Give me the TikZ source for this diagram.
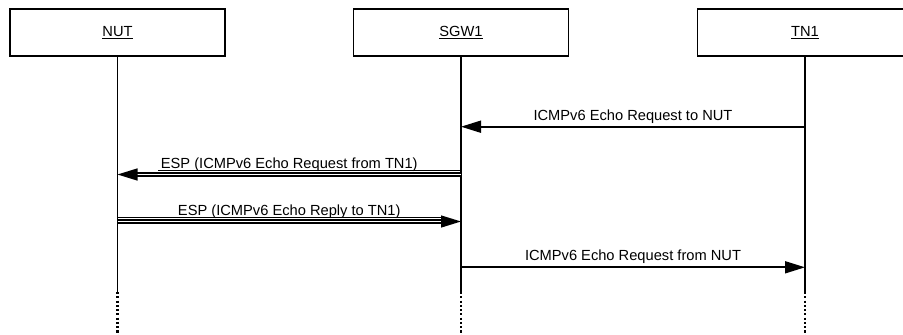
\documentclass[tikz,border=0pt]{standalone}
\usepackage{fontspec}
\setmainfont{Liberation Sans}
\usetikzlibrary{arrows.meta,calc}
\tikzset{
  actor/.style={draw, line width=1.4pt, minimum width=161.25pt, minimum height=35.25pt,
                inner sep=0pt, font=\fontsize{11}{13}\selectfont},
  life/.style={line width=1.4pt},
  lifedot/.style={line width=1.6pt, dash pattern=on 1.6pt off 1.6pt},
  msg/.style={line width=1.3pt, -{Triangle[length=15pt,width=9pt]}},
  esp/.style={line width=0.95pt, double, double distance=1.4pt, -{Triangle[length=15pt,width=9pt]}},
  uline/.style={line width=0.8pt},
  mlab/.style={font=\fontsize{11}{13}\selectfont, anchor=base, inner sep=0pt},
}

\begin{document}
\begin{tikzpicture}[x=0.75pt, y=-0.75pt]
    \clip (0,0) rectangle (903,335);
    % actors
    \node[actor] (nut) at (117.5,32.5) {\underline{NUT}};
    \node[actor] (sgw) at (461,32.5) {\underline{SGW1}};
    \node[actor] (tn) at (805,32.5) {\underline{TN1}};
    % lifelines
    \coordinate (nutend) at (nut |- 0,292);
    \coordinate (sgwend) at (sgw |- 0,292);
    \coordinate (tnend) at (tn |- 0,292);
    \draw[life] (nut) -- (nutend);  \draw[lifedot] (nutend) -- (nut |- 0,336);
    \draw[life] (sgw) -- (sgwend);  \draw[lifedot] (sgwend) -- (sgw |- 0,336);
    \draw[life] (tn) -- (tnend);    \draw[lifedot] (tnend) -- (tn |- 0,336);
    % TN1 -> SGW1
    \coordinate (m1a) at (tn |- 0,126.7);
    \coordinate (m1b) at (sgw |- 0,126.7);
    \draw[msg] (m1a) -- (m1b);
    \node[mlab] (l1) at ($(m1a)!0.5!(m1b)+(0,-6)$) {ICMPv6 Echo Request to NUT};
    % SGW1 -> NUT, ESP
    \coordinate (m2a) at (sgw |- 0,174.5);
    \coordinate (m2b) at (nut |- 0,174.5);
    \draw[esp] (m2a) -- (m2b);
    \draw[uline] ($(m2a)+(0,-4)$) -- ($(m2b)+(40,-4)$);
    \node[mlab] (l2) at ($(m2a)!0.5!(m2b)+(0,-6.5)$) {ESP (ICMPv6 Echo Request from TN1)};
    % NUT -> SGW1, ESP
    \coordinate (m3a) at (nut |- 0,221.5);
    \coordinate (m3b) at (sgw |- 0,221.5);
    \draw[esp] (m3a) -- (m3b);
    \draw[uline] ($(m3a)+(0,-4)$) -- ($(m3b)+(-20,-4)$);
    \node[mlab] (l3) at ($(m3a)!0.5!(m3b)+(0,-6.5)$) {ESP (ICMPv6 Echo Reply to TN1)};
    % SGW1 -> TN1
    \coordinate (m4a) at (sgw |- 0,267.3);
    \coordinate (m4b) at (tn |- 0,267.3);
    \draw[msg] (m4a) -- (m4b);
    \node[mlab] (l4) at ($(m4a)!0.5!(m4b)+(0,-6.6)$) {ICMPv6 Echo Request from NUT};
\end{tikzpicture}
\end{document}
